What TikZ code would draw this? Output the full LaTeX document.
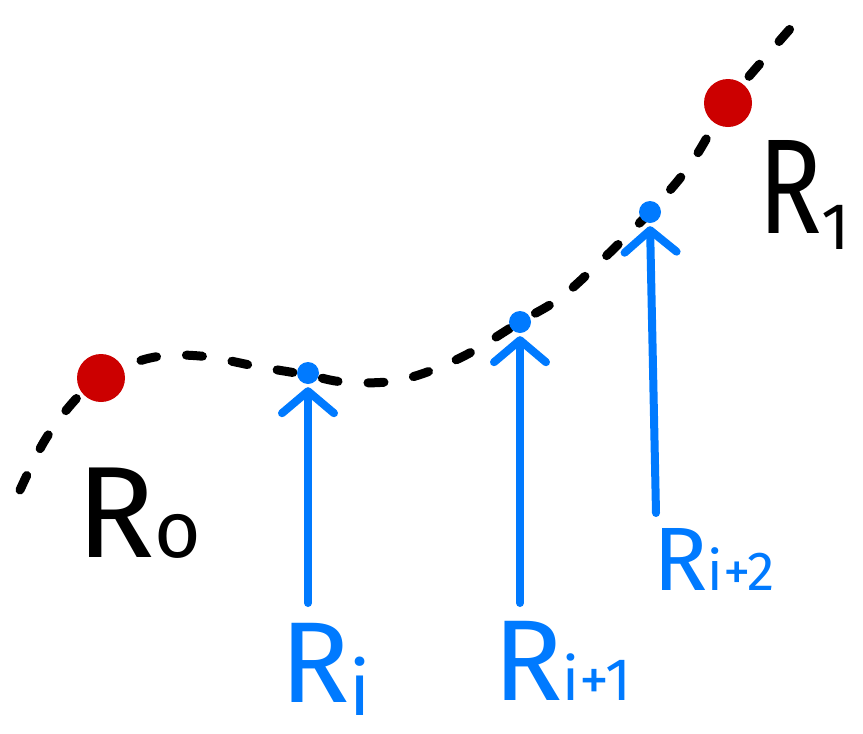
\documentclass[tikz,border=0pt]{standalone}
\usepackage{fontspec}
\setmainfont{Fira Sans}
\usetikzlibrary{arrows.meta}
\definecolor{inkblue}{RGB}{0,122,255}
\definecolor{inkred}{RGB}{204,0,0}
\begin{document}
\begin{tikzpicture}[x=1pt,y=-1pt,
  curve/.style={black, line width=9pt, line cap=round, dash pattern=on 16pt off 30pt},
  bdot/.style={circle, fill=inkblue, inner sep=0pt, minimum size=22pt},
  rdot/.style={circle, fill=inkred, inner sep=0pt, minimum size=48pt},
  arrowline/.style={inkblue, line width=8pt, line cap=round,
    -{Straight Barb[length=22pt,width=52pt,round]}, shorten >=3pt},
  blab/.style={inkblue, inner sep=0pt, anchor=base west},
  klab/.style={black, inner sep=0pt, anchor=base west}]
\useasboundingbox (0,0) rectangle (863,734);
\draw[curve] plot[smooth, tension=0.6] coordinates {(20,490) (45,440) (75,400) (101,378) (150,358) (200,356) (260,367) (308,375) (345,382) (400,380) (460,358) (520,322) (560,298) (600,262) (650,212) (690,165) (728,103) (770,52) (805,12)};
\node[rdot] (r0) at (101,378) {};
\node[rdot] (r1) at (728,103) {};
\node[bdot] (bi) at (308,373) {};
\node[bdot] (bi1) at (520,322) {};
\node[bdot] (bi2) at (650,212) {};
\node[klab] (l0) at (76,557) {\fontsize{130}{130}\selectfont R\fontsize{80}{80}\selectfont o};
\node[klab] (l1) at (758,233) {\fontsize{135}{135}\selectfont \scalebox{0.78}[1]{R}\raisebox{-0.12em}{\fontsize{66}{66}\selectfont 1}};
\node[blab] (li) at (280,702) {\fontsize{115}{115}\selectfont R\raisebox{-0.12em}{\fontsize{75}{75}\selectfont i}};
\node[blab] (li1) at (493,700) {\fontsize{115}{115}\selectfont R\fontsize{60}{60}\selectfont i+1};
\node[blab] (li2) at (653,590) {\fontsize{90}{90}\selectfont R\fontsize{55}{55}\selectfont i+2};
\coordinate (ti) at (308,603);
\coordinate (ti1) at (520,603);
\coordinate (ti2) at (656,513);
\draw[arrowline] (ti) -- (bi.south);
\draw[arrowline] (ti1) -- (bi1.south);
\draw[arrowline] (ti2) -- (bi2.south);
\end{tikzpicture}
\end{document}
